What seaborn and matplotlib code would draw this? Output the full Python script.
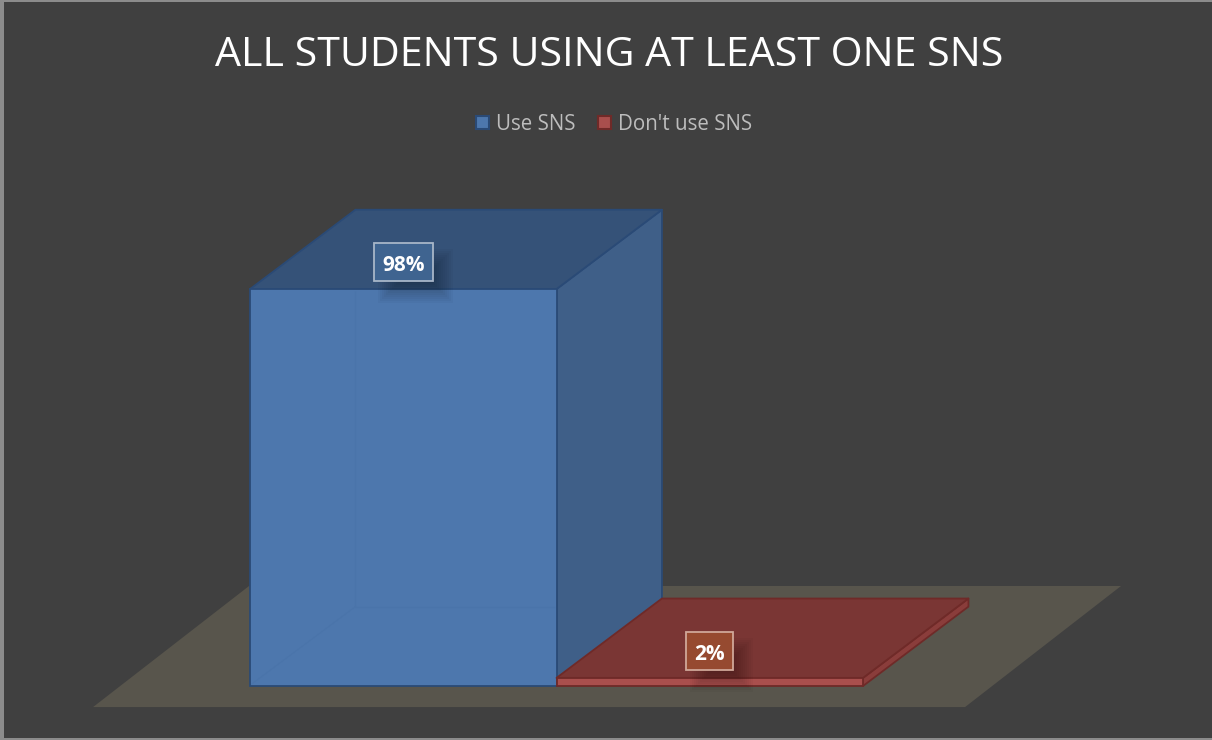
import matplotlib
matplotlib.use("Agg")
import matplotlib.pyplot as plt
from matplotlib.patches import Polygon, Rectangle
from matplotlib.transforms import offset_copy
import seaborn as sns

# Data
categories = ["Use SNS", "Don't use SNS"]
values = [98, 2]
value_labels = ["98%", "2%"]
title_text = "ALL STUDENTS USING AT LEAST ONE SNS"

# Style
W, H = 1212, 740
BG = "#404040"
front = {"Use SNS": "#4d77ad", "Don't use SNS": "#a94f4d"}
top = {"Use SNS": "#355278", "Don't use SNS": "#7a3634"}
side = {"Use SNS": "#3f5f88", "Don't use SNS": "#8a3d3b"}
edge = {"Use SNS": "#2a4a76", "Don't use SNS": "#6f2a28"}
box_fill = {"Use SNS": "#3f6490", "Don't use SNS": "#964a30"}
box_edge = {"Use SNS": "#a8b6c8", "Don't use SNS": "#d0a899"}

sns.set_theme(style="dark")
plt.rcParams["font.family"] = ["Open Sans", "DejaVu Sans"]

fig = plt.figure(figsize=(W / 100, H / 100), dpi=100, facecolor="#8c8c8c")
fig.add_artist(Rectangle((4 / W, 2 / H), 1 - 4 / W, 1 - 3.5 / H,
                         transform=fig.transFigure, fc=BG, ec="none", zorder=-10))

ax = fig.add_axes([250 / W, (H - 686) / H, 613 / W, 405 / H])
sns.barplot(x=categories, y=values, hue=categories, hue_order=categories,
            order=categories, palette=front, width=1, dodge=False,
            saturation=1, legend=True, ax=ax)
ax.set_xlim(-0.5, 1.5)
ax.set_ylim(0, 100)
ax.set_axis_off()

PX_X = 613 / 2      # pixels per x unit
PX_Y = 405 / 100    # pixels per y unit

# Oblique depth of the 3-D look, in data units
DX, DY = 0.344, 19.6

# Floor
fl, fr, fb = -1.012, 1.833, -5.2
fdx, fdy = 0.509, 29.9
ax.add_patch(Polygon([(fl, fb), (fr, fb), (fr + fdx, fb + fdy), (fl + fdx, fb + fdy)],
                     closed=True, fc="#58554c", ec="none", zorder=1, clip_on=False))

renderer = fig.canvas.get_renderer()
bars = [p for p in ax.patches if isinstance(p, Rectangle) and p.get_height() > 0]
bars.sort(key=lambda p: p.get_x())
for i, (bar, cat) in enumerate(zip(bars, categories)):
    x0, w, h = bar.get_x(), bar.get_width(), bar.get_height()
    x1 = x0 + w
    z = 3 + i
    lw = 1.3
    ax.add_patch(Polygon([(x1, 0), (x1 + DX, DY), (x1 + DX, h + DY), (x1, h)], closed=True,
                         fc=side[cat], ec=edge[cat], lw=lw, zorder=z, clip_on=False, joinstyle="round"))
    ax.add_patch(Polygon([(x0, h), (x1, h), (x1 + DX, h + DY), (x0 + DX, h + DY)], closed=True,
                         fc=top[cat], ec=edge[cat], lw=lw, zorder=z, clip_on=False, joinstyle="round"))
    bar.set_edgecolor(edge[cat])
    bar.set_linewidth(lw)
    bar.set_zorder(z + 0.1)
    bar.set_clip_on(False)
    # faint back edges seen through the translucent front face
    if h > 50:
        inner = 0.004
        for xs, ys in [([x0 + inner, x0 + DX], [0.4, DY]), ([x0 + DX, x1 - inner], [DY, DY]),
                       ([x0 + DX, x0 + DX], [DY, h - 0.4])]:
            ax.plot(xs, ys, color="#4a74aa", lw=0.8, zorder=z + 0.2, solid_capstyle="butt")

    # Value label with a soft shadow and a box fitted round the text
    cx = x0 + w / 2
    text_y = h + 6.4
    box_y = h + 6.7
    label = ax.text(cx, text_y, value_labels[i], ha="center", va="center_baseline", fontsize=15,
                    fontweight="bold", color="white", zorder=z + 0.6, clip_on=False)
    half_w = (label.get_window_extent(renderer).width / 2 + 8) / PX_X
    half_h = 19 / PX_Y
    shadow_tf = offset_copy(ax.transData, fig=fig, x=12, y=-14, units="dots")
    for grow in range(8, -16, -2):
        gx, gy = grow / PX_X, grow / PX_Y
        ax.add_patch(Rectangle((cx - half_w - gx, box_y - half_h - gy),
                               2 * (half_w + gx), 2 * (half_h + gy),
                               transform=shadow_tf, fc="black", ec="none", alpha=0.028,
                               zorder=z + 0.3, clip_on=False))
    ax.add_patch(Rectangle((cx - half_w, box_y - half_h), 2 * half_w, 2 * half_h,
                           fc=box_fill[cat], ec=box_edge[cat], lw=1.3,
                           zorder=z + 0.5, clip_on=False))

# Legend
sns.move_legend(ax, loc="center", bbox_to_anchor=(614.5 / W, (H - 124.5) / H),
                bbox_transform=fig.transFigure, ncol=2, frameon=False, title=None,
                fontsize=14.8, labelcolor="#bdbdbd", handlelength=0.62, handleheight=0.62,
                handletextpad=0.35, columnspacing=1.1, borderpad=0)
for handle, cat in zip(ax.get_legend().get_patches(), categories):
    handle.set_edgecolor(edge[cat])
    handle.set_linewidth(1.5)

fig.text(609 / W, (H - 56) / H, title_text, ha="center", va="center", fontsize=29.6, color="white")

fig.savefig("out.png", dpi=100, facecolor=fig.get_facecolor())
